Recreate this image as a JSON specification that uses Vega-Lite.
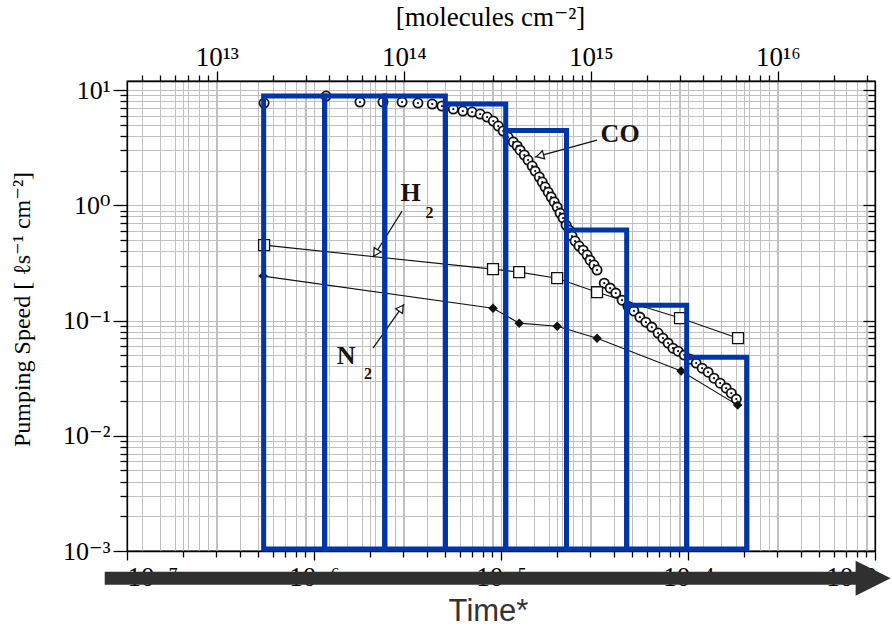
{
  "$schema": "https://vega.github.io/schema/vega-lite/v6.json",
  "width": 748,
  "height": 470,
  "autosize": {"type": "none"},
  "padding": {"left": 127, "top": 81, "right": 17, "bottom": 80},
  "background": "white",
  "config": {
    "view": {"stroke": "black", "strokeWidth": 1.3},
    "font": "Liberation Serif",
    "axis": {
      "labelFont": "Liberation Serif, DejaVu Serif",
      "labelColor": "black",
      "labelFlush": false,
      "labelOverlap": false,
      "labelBound": false,
      "domainColor": "black",
      "domainWidth": 1.3,
      "tickColor": "black",
      "tickWidth": 1.3,
      "gridColor": "#c0c0c0",
      "gridWidth": 1,
      "gridOpacity": 1,
      "titleFont": "Liberation Serif, DejaVu Serif",
      "titleFontWeight": "normal",
      "titleColor": "black"
    }
  },
  "datasets": {
    "gas": [
      {"gas": "H2", "coverage": 1.79e13, "speed": 0.451},
      {"gas": "H2", "coverage": 3.00e14, "speed": 0.279},
      {"gas": "H2", "coverage": 4.14e14, "speed": 0.263},
      {"gas": "H2", "coverage": 6.61e14, "speed": 0.233},
      {"gas": "H2", "coverage": 1.08e15, "speed": 0.176},
      {"gas": "H2", "coverage": 3.00e15, "speed": 0.105},
      {"gas": "H2", "coverage": 6.13e15, "speed": 0.0703},
      {"gas": "N2", "coverage": 1.77e13, "speed": 0.243},
      {"gas": "N2", "coverage": 3.00e14, "speed": 0.128},
      {"gas": "N2", "coverage": 4.14e14, "speed": 0.0949},
      {"gas": "N2", "coverage": 6.61e14, "speed": 0.0893},
      {"gas": "N2", "coverage": 1.08e15, "speed": 0.0703},
      {"gas": "N2", "coverage": 3.04e15, "speed": 0.0364},
      {"gas": "N2", "coverage": 6.10e15, "speed": 0.01845},
      {"gas": "CO", "coverage": 1.79e13, "speed": 7.71},
      {"gas": "CO", "coverage": 3.84e13, "speed": 8.87},
      {"gas": "CO", "coverage": 5.83e13, "speed": 7.87},
      {"gas": "CO", "coverage": 7.74e13, "speed": 7.87},
      {"gas": "CO", "coverage": 9.79e13, "speed": 7.87},
      {"gas": "CO", "coverage": 1.19e14, "speed": 7.71},
      {"gas": "CO", "coverage": 1.42e14, "speed": 7.56},
      {"gas": "CO", "coverage": 1.60e14, "speed": 7.26},
      {"gas": "CO", "coverage": 1.84e14, "speed": 6.84},
      {"gas": "CO", "coverage": 2.07e14, "speed": 6.57},
      {"gas": "CO", "coverage": 2.32e14, "speed": 6.44},
      {"gas": "CO", "coverage": 2.56e14, "speed": 6.19},
      {"gas": "CO", "coverage": 2.79e14, "speed": 5.83},
      {"gas": "CO", "coverage": 3.01e14, "speed": 5.38},
      {"gas": "CO", "coverage": 3.20e14, "speed": 4.87},
      {"gas": "CO", "coverage": 3.40e14, "speed": 4.41},
      {"gas": "CO", "coverage": 3.61e14, "speed": 3.91},
      {"gas": "CO", "coverage": 3.85e14, "speed": 3.54},
      {"gas": "CO", "coverage": 4.04e14, "speed": 3.27},
      {"gas": "CO", "coverage": 4.19e14, "speed": 3.01},
      {"gas": "CO", "coverage": 4.41e14, "speed": 2.73},
      {"gas": "CO", "coverage": 4.62e14, "speed": 2.47},
      {"gas": "CO", "coverage": 4.86e14, "speed": 2.19},
      {"gas": "CO", "coverage": 5.04e14, "speed": 1.98},
      {"gas": "CO", "coverage": 5.30e14, "speed": 1.76},
      {"gas": "CO", "coverage": 5.50e14, "speed": 1.59},
      {"gas": "CO", "coverage": 5.70e14, "speed": 1.44},
      {"gas": "CO", "coverage": 5.92e14, "speed": 1.30},
      {"gas": "CO", "coverage": 6.14e14, "speed": 1.18},
      {"gas": "CO", "coverage": 6.37e14, "speed": 1.07},
      {"gas": "CO", "coverage": 6.61e14, "speed": 0.964},
      {"gas": "CO", "coverage": 6.85e14, "speed": 0.855},
      {"gas": "CO", "coverage": 7.11e14, "speed": 0.774},
      {"gas": "CO", "coverage": 7.38e14, "speed": 0.673},
      {"gas": "CO", "coverage": 7.66e14, "speed": 0.609},
      {"gas": "CO", "coverage": 7.94e14, "speed": 0.541},
      {"gas": "CO", "coverage": 8.24e14, "speed": 0.489},
      {"gas": "CO", "coverage": 8.65e14, "speed": 0.443},
      {"gas": "CO", "coverage": 9.10e14, "speed": 0.408},
      {"gas": "CO", "coverage": 9.55e14, "speed": 0.370},
      {"gas": "CO", "coverage": 9.91e14, "speed": 0.334},
      {"gas": "CO", "coverage": 1.04e15, "speed": 0.303},
      {"gas": "CO", "coverage": 1.08e15, "speed": 0.274},
      {"gas": "CO", "coverage": 1.18e15, "speed": 0.211},
      {"gas": "CO", "coverage": 1.27e15, "speed": 0.191},
      {"gas": "CO", "coverage": 1.36e15, "speed": 0.173},
      {"gas": "CO", "coverage": 1.47e15, "speed": 0.150},
      {"gas": "CO", "coverage": 1.58e15, "speed": 0.133},
      {"gas": "CO", "coverage": 1.70e15, "speed": 0.121},
      {"gas": "CO", "coverage": 1.83e15, "speed": 0.107},
      {"gas": "CO", "coverage": 1.97e15, "speed": 0.0968},
      {"gas": "CO", "coverage": 2.12e15, "speed": 0.0877},
      {"gas": "CO", "coverage": 2.29e15, "speed": 0.0778},
      {"gas": "CO", "coverage": 2.43e15, "speed": 0.0703},
      {"gas": "CO", "coverage": 2.59e15, "speed": 0.0637},
      {"gas": "CO", "coverage": 2.75e15, "speed": 0.0575},
      {"gas": "CO", "coverage": 2.93e15, "speed": 0.0542},
      {"gas": "CO", "coverage": 3.16e15, "speed": 0.0501},
      {"gas": "CO", "coverage": 3.40e15, "speed": 0.0462},
      {"gas": "CO", "coverage": 3.66e15, "speed": 0.0427},
      {"gas": "CO", "coverage": 3.94e15, "speed": 0.0386},
      {"gas": "CO", "coverage": 4.24e15, "speed": 0.0356},
      {"gas": "CO", "coverage": 4.56e15, "speed": 0.0316},
      {"gas": "CO", "coverage": 4.92e15, "speed": 0.0286},
      {"gas": "CO", "coverage": 5.30e15, "speed": 0.0259},
      {"gas": "CO", "coverage": 5.64e15, "speed": 0.0234},
      {"gas": "CO", "coverage": 6.00e15, "speed": 0.0208}
    ],
    "callouts": [
      {"label": "CO", "coverage": 1.08e15, "speed": 3.68, "coverage2": 5.03e14, "speed2": 2.62},
      {"label": "H2", "coverage": 9.79e13, "speed": 0.891, "coverage2": 6.85e13, "speed2": 0.355},
      {"label": "N2", "coverage": 6.85e13, "speed": 0.0576, "coverage2": 1.004e14, "speed2": 0.1387}
    ],
    "heads": [
      {"label": "CO", "coverage": 5.35e14, "speed": 2.69},
      {"label": "H2", "coverage": 7.08e13, "speed": 0.386},
      {"label": "N2", "coverage": 9.68e13, "speed": 0.128}
    ],
    "names": [
      {"text": "CO", "part": "main", "coverage": 1.435e15, "speed": 4.15},
      {"text": "H", "part": "main", "coverage": 1.087e14, "speed": 1.277},
      {"text": "2", "part": "sub", "coverage": 1.374e14, "speed": 0.857},
      {"text": "N", "part": "main", "coverage": 4.91e13, "speed": 0.0492},
      {"text": "2", "part": "sub", "coverage": 6.44e13, "speed": 0.0344}
    ],
    "pulses": [
      {"t0": 5.38e-7, "t1": 1.14e-6, "speed": 8.87},
      {"t0": 1.14e-6, "t1": 2.39e-6, "speed": 8.87},
      {"t0": 2.39e-6, "t1": 5.04e-6, "speed": 8.87},
      {"t0": 5.04e-6, "t1": 1.06e-5, "speed": 7.56},
      {"t0": 1.06e-5, "t1": 2.24e-5, "speed": 4.45},
      {"t0": 2.24e-5, "t1": 4.70e-5, "speed": 0.609},
      {"t0": 4.70e-5, "t1": 9.84e-5, "speed": 0.136},
      {"t0": 9.84e-5, "t1": 2.06e-4, "speed": 0.0481}
    ],
    "timearrow": [
      {"t0": 7.60e-8, "t1": 8.07e-4, "speed": 5.81e-4, "tip": 9.77e-4}
    ]
  },
  "layer": [
    {
      "encoding": {
        "x": {
          "field": "coverage",
          "type": "quantitative",
          "scale": {"type": "log", "domain": [3.31e12, 3.31e16], "nice": false},
          "axis": {
            "orient": "top",
            "values": [4e12, 5e12, 6e12, 7e12, 8e12, 9e12, 1e13, 2e13, 3e13, 4e13, 5e13, 6e13, 7e13, 8e13, 9e13, 1e14, 2e14, 3e14, 4e14, 5e14, 6e14, 7e14, 8e14, 9e14, 1e15, 2e15, 3e15, 4e15, 5e15, 6e15, 7e15, 8e15, 9e15, 1e16, 2e16, 3e16],
            "labelExpr": "datum.value == 1e13 ? '10¹³' : datum.value == 1e14 ? '10¹⁴' : datum.value == 1e15 ? '10¹⁵' : datum.value == 1e16 ? '10¹⁶' : ''",
            "tickSize": {"condition": {"test": "indexof([1e13, 1e14, 1e15, 1e16], datum.value) >= 0", "value": 10}, "value": 6},
            "labelFontSize": 27,
            "labelBaseline": "alphabetic",
            "labelPadding": 6,
            "grid": true,
            "title": "[molecules cm⁻²]",
            "titleFontSize": 27,
            "titleX": 363,
            "titleY": -56,
            "titleAlign": "center",
            "titleBaseline": "alphabetic"
          }
        },
        "y": {
          "field": "speed",
          "type": "quantitative",
          "scale": {"type": "log", "domain": [0.001, 11.98], "nice": false},
          "axis": {
            "orient": "right",
            "values": [0.001, 0.002, 0.003, 0.004, 0.005, 0.006, 0.007, 0.008, 0.009, 0.01, 0.02, 0.03, 0.04, 0.05, 0.06, 0.07, 0.08, 0.09, 0.1, 0.2, 0.3, 0.4, 0.5, 0.6, 0.7, 0.8, 0.9, 1, 2, 3, 4, 5, 6, 7, 8, 9, 10],
            "labels": false,
            "grid": false,
            "title": null,
            "tickSize": {"condition": {"test": "indexof([0.001, 0.01, 0.1, 1, 10], datum.value) >= 0", "value": -12}, "value": -7}
          }
        }
      },
      "layer": [
        {
          "data": {"name": "gas"},
          "transform": [{"filter": "datum.gas == 'H2'"}],
          "mark": {"type": "line", "color": "#111", "strokeWidth": 1.1}
        },
        {
          "data": {"name": "gas"},
          "transform": [{"filter": "datum.gas == 'N2'"}],
          "mark": {"type": "line", "color": "#111", "strokeWidth": 1.1}
        },
        {
          "data": {"name": "gas"},
          "transform": [{"filter": "datum.gas == 'CO'"}],
          "mark": {"type": "point", "shape": "circle", "size": 85, "filled": true, "fill": "white", "stroke": "#111", "strokeWidth": 1.8, "opacity": 1}
        },
        {
          "data": {"name": "gas"},
          "transform": [{"filter": "datum.gas == 'CO'"}],
          "mark": {"type": "point", "shape": "circle", "size": 5, "filled": true, "color": "#111", "opacity": 1}
        },
        {
          "data": {"name": "gas"},
          "transform": [{"filter": "datum.gas == 'H2'"}],
          "mark": {"type": "point", "shape": "square", "size": 120, "filled": true, "fill": "white", "stroke": "#111", "strokeWidth": 1.3, "opacity": 1}
        },
        {
          "data": {"name": "gas"},
          "transform": [{"filter": "datum.gas == 'N2'"}],
          "mark": {"type": "point", "shape": "diamond", "size": 90, "filled": true, "color": "#111", "opacity": 1}
        },
        {
          "data": {"name": "callouts"},
          "mark": {"type": "rule", "color": "#111", "strokeWidth": 1.2},
          "encoding": {
            "x2": {"field": "coverage2"},
            "y2": {"field": "speed2"}
          }
        },
        {
          "data": {"name": "heads"},
          "transform": [{"filter": "datum.label == 'CO'"}],
          "mark": {"type": "point", "shape": "triangle-up", "size": 70, "angle": 255, "filled": true, "fill": "white", "stroke": "#111", "strokeWidth": 1.2, "opacity": 1}
        },
        {
          "data": {"name": "heads"},
          "transform": [{"filter": "datum.label == 'H2'"}],
          "mark": {"type": "point", "shape": "triangle-up", "size": 70, "angle": 212, "filled": true, "fill": "white", "stroke": "#111", "strokeWidth": 1.2, "opacity": 1}
        },
        {
          "data": {"name": "heads"},
          "transform": [{"filter": "datum.label == 'N2'"}],
          "mark": {"type": "point", "shape": "triangle-up", "size": 70, "angle": 35, "filled": true, "fill": "white", "stroke": "#111", "strokeWidth": 1.2, "opacity": 1}
        },
        {
          "data": {"name": "names"},
          "transform": [{"filter": "datum.part == 'main'"}],
          "mark": {"type": "text", "font": "Liberation Serif", "fontWeight": "bold", "fontSize": 26, "color": "#1c140c", "align": "center", "baseline": "middle"},
          "encoding": {"text": {"field": "text"}}
        },
        {
          "data": {"name": "names"},
          "transform": [{"filter": "datum.part == 'sub'"}],
          "mark": {"type": "text", "font": "Liberation Serif", "fontWeight": "bold", "fontSize": 16, "color": "#1c140c", "align": "center", "baseline": "middle"},
          "encoding": {"text": {"field": "text"}}
        }
      ]
    },
    {
      "encoding": {
        "x": {
          "field": "t0",
          "type": "quantitative",
          "scale": {"type": "log", "domain": [1e-7, 1e-3], "nice": false},
          "axis": {
            "orient": "bottom",
            "values": [1e-7, 2e-7, 3e-7, 4e-7, 5e-7, 6e-7, 7e-7, 8e-7, 9e-7, 1e-6, 2e-6, 3e-6, 4e-6, 5e-6, 6e-6, 7e-6, 8e-6, 9e-6, 1e-5, 2e-5, 3e-5, 4e-5, 5e-5, 6e-5, 7e-5, 8e-5, 9e-5, 1e-4, 2e-4, 3e-4, 4e-4, 5e-4, 6e-4, 7e-4, 8e-4, 9e-4, 1e-3],
            "labelExpr": "datum.value == 1e-7 ? '10⁻⁷' : datum.value == 1e-6 ? '10⁻⁶' : datum.value == 1e-5 ? '10⁻⁵' : datum.value == 1e-4 ? '10⁻⁴' : datum.value == 1e-3 ? '10⁻³' : ''",
            "tickSize": {"condition": {"test": "indexof([1e-7, 1e-6, 1e-5, 1e-4, 1e-3], datum.value) >= 0", "value": 9}, "value": 6},
            "labelFontSize": 27,
            "labelPadding": 4,
            "labelFlush": true,
            "grid": true,
            "title": "Time*",
            "titleFont": "Liberation Sans",
            "titleFontSize": 31,
            "titleColor": "#333333",
            "titleX": 361,
            "titleY": 69,
            "titleAlign": "center",
            "titleBaseline": "alphabetic"
          }
        },
        "y": {
          "field": "speed",
          "type": "quantitative",
          "scale": {"type": "log", "domain": [0.001, 11.98], "nice": false},
          "axis": {
            "orient": "left",
            "values": [0.001, 0.002, 0.003, 0.004, 0.005, 0.006, 0.007, 0.008, 0.009, 0.01, 0.02, 0.03, 0.04, 0.05, 0.06, 0.07, 0.08, 0.09, 0.1, 0.2, 0.3, 0.4, 0.5, 0.6, 0.7, 0.8, 0.9, 1, 2, 3, 4, 5, 6, 7, 8, 9, 10],
            "labelExpr": "datum.value == 0.001 ? '10⁻³' : datum.value == 0.01 ? '10⁻²' : datum.value == 0.1 ? '10⁻¹' : datum.value == 1 ? '10⁰' : datum.value == 10 ? '10¹' : ''",
            "tickSize": {"condition": {"test": "indexof([0.001, 0.01, 0.1, 1, 10], datum.value) >= 0", "value": 14}, "value": 7},
            "labelFontSize": 26,
            "labelPadding": 3,
            "grid": true,
            "title": "Pumping Speed  [ ℓs⁻¹ cm⁻²]",
            "titleFontSize": 24,
            "titleX": -105,
            "titleY": 228,
            "titleAngle": -90,
            "titleAlign": "center",
            "titleBaseline": "middle"
          }
        }
      },
      "layer": [
        {
          "data": {"name": "pulses"},
          "mark": {"type": "rect", "filled": false, "color": "#0035a5", "strokeWidth": 5, "strokeJoin": "miter"},
          "encoding": {
            "x2": {"field": "t1"},
            "y2": {"datum": 0.00104}
          }
        },
        {
          "data": {"name": "timearrow"},
          "mark": {"type": "rule", "color": "#303030", "strokeWidth": 13, "strokeCap": "butt"},
          "encoding": {
            "x2": {"field": "t1"}
          }
        },
        {
          "data": {"name": "timearrow"},
          "mark": {"type": "point", "shape": "M-1,-1L1,0L-1,1Z", "size": 1225, "filled": true, "color": "#303030", "opacity": 1},
          "encoding": {
            "x": {"field": "tip", "type": "quantitative"}
          }
        }
      ]
    }
  ],
  "resolve": {
    "scale": {"x": "independent", "y": "independent"},
    "axis": {"x": "independent", "y": "independent"}
  }
}
